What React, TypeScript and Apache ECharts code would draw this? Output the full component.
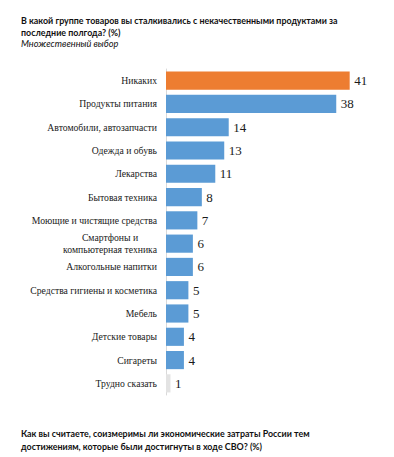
import React, { useEffect, useRef } from "react";
import * as echarts from "echarts";

const categories = [
  "Никаких",
  "Продукты питания",
  "Автомобили, автозапчасти",
  "Одежда и обувь",
  "Лекарства",
  "Бытовая техника",
  "Моющие и чистящие средства",
  "Смартфоны и\nкомпьютерная техника",
  "Алкогольные напитки",
  "Средства гигиены и косметика",
  "Мебель",
  "Детские товары",
  "Сигареты",
  "Трудно сказать",
];
const values = [41, 38, 14, 13, 11, 8, 7, 6, 6, 5, 5, 4, 4, 1];
const barColors = [
  "#ED7D31", "#5B9BD5", "#5B9BD5", "#5B9BD5", "#5B9BD5", "#5B9BD5", "#5B9BD5",
  "#5B9BD5", "#5B9BD5", "#5B9BD5", "#5B9BD5", "#5B9BD5", "#5B9BD5", "#E3E3E3",
];
const titleLines = [
  "В какой группе товаров вы сталкивались с некачественными продуктами за",
  "последние полгода? (%)",
];
const subtitle = "Множественный выбор";
const footerLines = [
  "Как вы считаете, соизмеримы ли экономические затраты России тем",
  "достижениям, которые были достигнуты в ходе СВО? (%)",
];

const SERIF = "'Liberation Serif', 'Times New Roman', serif";
const SANS = "Lato";

export default function App() {
  const ref = useRef<HTMLDivElement>(null);
  useEffect(() => {
    const chart = echarts.init(ref.current!, null, { renderer: "svg" });
    chart.setOption({
      animation: false,
      backgroundColor: "#ffffff",
      textStyle: { fontFamily: SERIF },
      grid: { left: 166, top: 69, width: 201.6, height: 326, containLabel: false },
      xAxis: {
        type: "value",
        min: 0,
        max: 45,
        show: false,
      },
      yAxis: {
        type: "category",
        inverse: true,
        data: categories,
        axisLine: { show: true, lineStyle: { color: "#D9D9D9", width: 1 } },
        axisTick: { show: false },
        axisLabel: {
          margin: 9,
          fontFamily: SERIF,
          fontSize: 9.7,
          color: "#1a1a1a",
          lineHeight: 11.5,
          formatter: (v: string) => {
            if (v.indexOf("\n") >= 0) {
              return v
                .split("\n")
                .map((l) => "{c|" + l + "}")
                .join("\n");
            }
            return v;
          },
          rich: {
            c: {
              width: 94,
              align: "center",
              fontFamily: SERIF,
              fontSize: 9.7,
              color: "#1a1a1a",
              lineHeight: 11.5,
            },
          },
        },
      },
      series: [
        {
          type: "bar",
          data: values.map((v, i) => ({ value: v, itemStyle: { color: barColors[i] } })),
          barCategoryGap: "22%",
          label: {
            show: true,
            position: "right",
            distance: 4.5,
            fontFamily: SERIF,
            fontSize: 13,
            color: "#1a1a1a",
          },
        },
      ],
      graphic: [
        {
          type: "text",
          left: 21,
          top: 14.5,
          style: {
            text: titleLines.join("\n"),
            fontFamily: SANS,
            fontWeight: "bold",
            fontSize: 8.9,
            lineHeight: 12,
            fill: "#111",
          },
        },
        {
          type: "text",
          left: 21,
          top: 38.5,
          style: {
            text: subtitle,
            fontFamily: SANS,
            fontStyle: "italic",
            fontSize: 9.2,
            fill: "#111",
          },
        },
        {
          type: "text",
          left: 21,
          top: 427.5,
          style: {
            text: footerLines.join("\n"),
            fontFamily: SANS,
            fontWeight: "bold",
            fontSize: 8.9,
            lineHeight: 12.5,
            fill: "#111",
          },
        },
      ],
    });
    return () => chart.dispose();
  }, []);
  return <div ref={ref} style={{ width: 394, height: 457, position: "absolute", left: 0, top: 0 }} />;
}
